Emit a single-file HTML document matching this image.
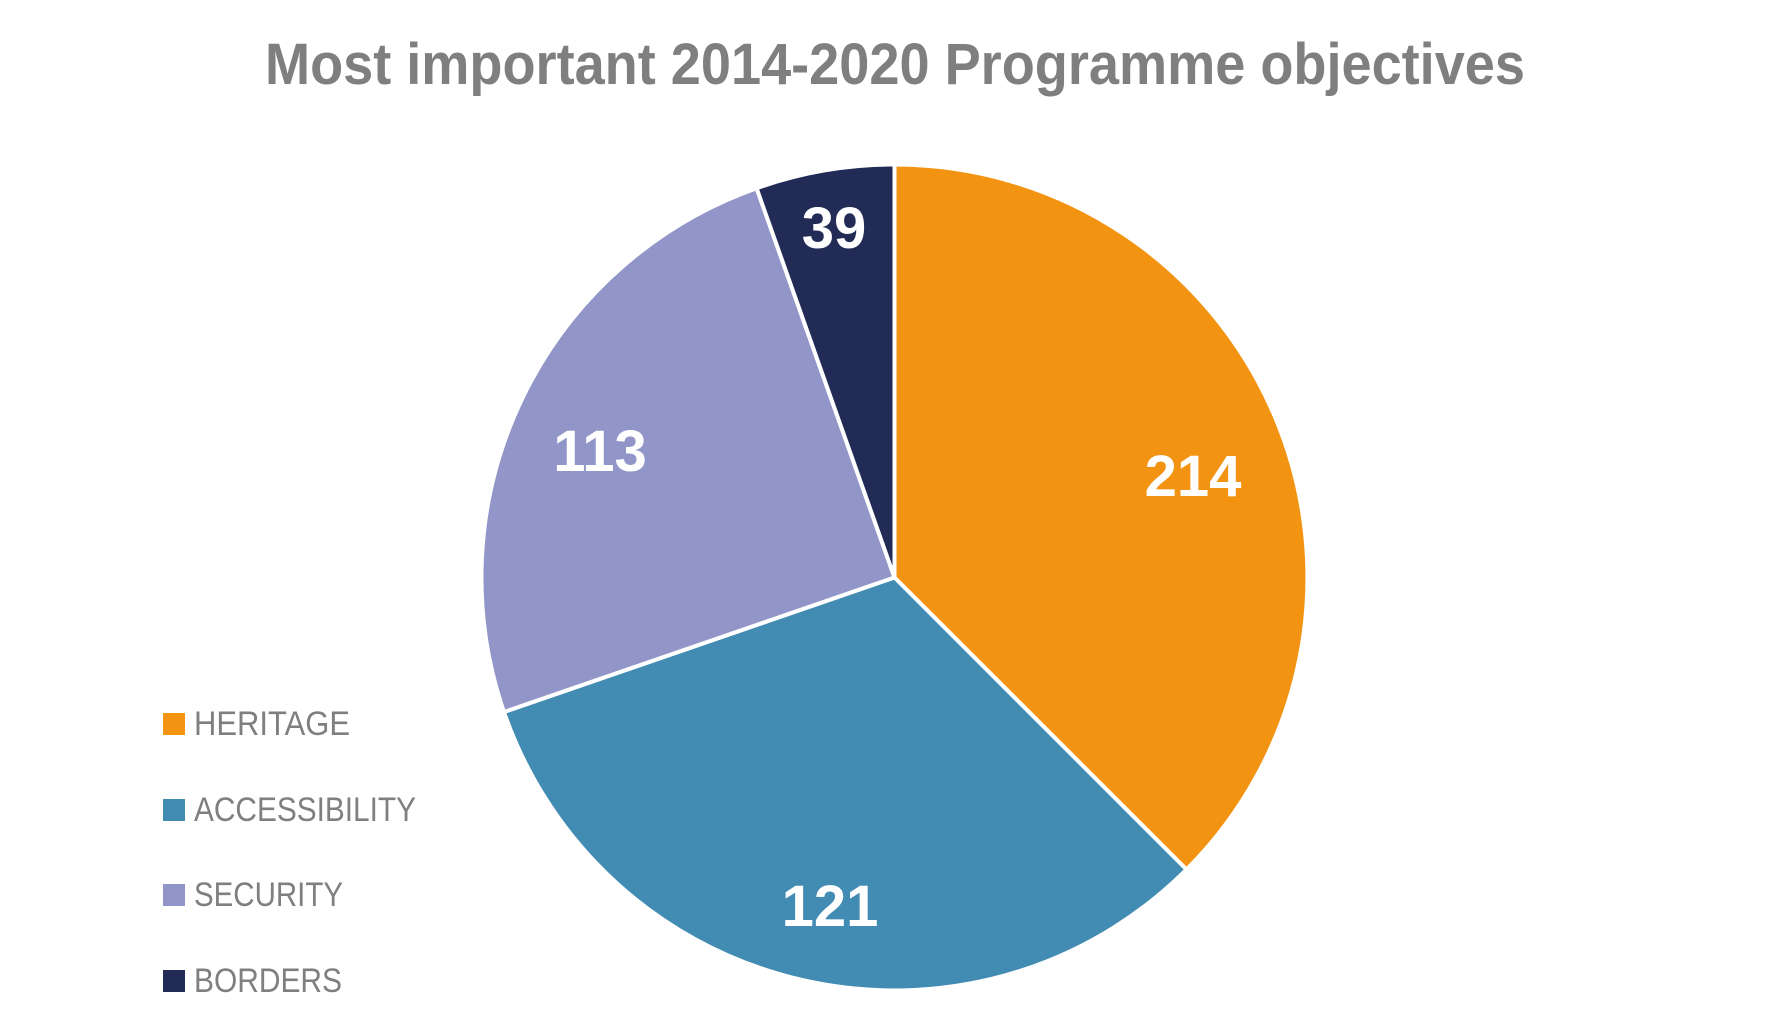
<!DOCTYPE html>
<html><head><meta charset="utf-8"><style>html,body{margin:0;padding:0;background:#fff;}svg{display:block}</style></head>
<body>
<svg width="1785" height="1017" viewBox="0 0 1785 1017" xmlns="http://www.w3.org/2000/svg">
<rect width="1785" height="1017" fill="#fff"/>
<text x="265" y="84" font-family="Liberation Sans, sans-serif" font-weight="bold" font-size="58" fill="#7f7f7f" textLength="1260" lengthAdjust="spacingAndGlyphs">Most important 2014-2020 Programme objectives</text>
<g transform="translate(-3.5,-2.5)">
<g stroke="#fff" stroke-width="4" stroke-linejoin="round">
<path d="M898,580 L898,167 A413,413 0 0 1 1190,872 Z" fill="#F39312"/>
<path d="M898,580 L1190,872 A413,413 0 0 1 507.5,714.5 Z" fill="#428BB2"/>
<path d="M898,580 L507.5,714.5 A413,413 0 0 1 760.1,190.7 Z" fill="#9195C8"/>
<path d="M898,580 L760.1,190.7 A413,413 0 0 1 898,167 Z" fill="#212B55"/>
</g>
</g>
<g font-family="Liberation Sans, sans-serif" font-weight="bold" font-size="58" fill="#fff" text-anchor="middle">
<text x="1193" y="496">214</text>
<text x="834" y="248">39</text>
<text x="600" y="471">113</text>
<text x="830" y="926">121</text>
</g>
<g font-family="Liberation Sans, sans-serif" font-size="34" fill="#7f7f7f">
<rect x="163" y="713" width="22" height="22" fill="#F39312"/>
<text x="194" y="735" textLength="156" lengthAdjust="spacingAndGlyphs">HERITAGE</text>
<rect x="163" y="799" width="22" height="22" fill="#428BB2"/>
<text x="194" y="821" textLength="222" lengthAdjust="spacingAndGlyphs">ACCESSIBILITY</text>
<rect x="163" y="884" width="22" height="22" fill="#9195C8"/>
<text x="194" y="906" textLength="149" lengthAdjust="spacingAndGlyphs">SECURITY</text>
<rect x="163" y="970" width="22" height="22" fill="#212B55"/>
<text x="194" y="992" textLength="148" lengthAdjust="spacingAndGlyphs">BORDERS</text>
</g>
</svg>
</body></html>
